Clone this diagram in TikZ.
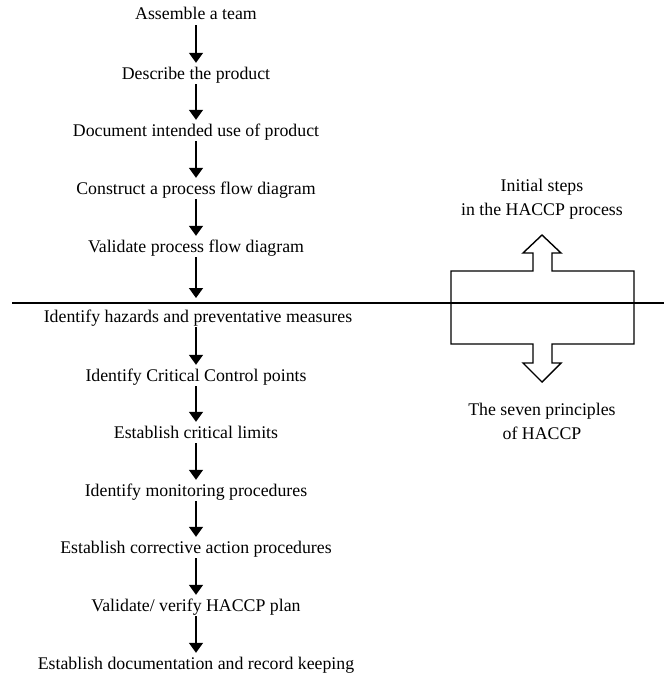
\documentclass[tikz,border=0pt]{standalone}
\usepackage{fontspec}
\setmainfont{Liberation Serif}
\usetikzlibrary{arrows.meta}
\begin{document}
\begin{tikzpicture}[x=1pt,y=-1pt,
  stepbox/.style={inner sep=1pt,text height=12pt,text depth=4pt,font=\fontsize{17.8}{24}\selectfont},
  lbl/.style={inner sep=0pt,align=center,font=\fontsize{17.8}{24}\selectfont},
  flow/.style={line width=1.5pt,-{Triangle[width=14pt,length=10pt]},shorten >=3pt},
  outline/.style={line width=1.4pt}]
\useasboundingbox (0,0) rectangle (664,677);
\node[stepbox] (s1) at (196,16) {Assemble a team};
\node[stepbox] (s2) at (196,75) {Describe the product};
\node[stepbox] (s3) at (196,132) {Document intended use of product};
\node[stepbox] (s4) at (196,190) {Construct a process flow diagram};
\node[stepbox] (s5) at (196,248) {Validate process flow diagram};
\coordinate (lineL) at (12,303);
\coordinate (lineR) at (664,303);
\coordinate (s5end) at (196,301);
\node[stepbox] (p1) at (198,318) {Identify hazards and preventative measures};
\node[stepbox] (p2) at (196,377) {Identify Critical Control points};
\node[stepbox] (p3) at (196,434) {Establish critical limits};
\node[stepbox] (p4) at (196,492) {Identify monitoring procedures};
\node[stepbox] (p5) at (196,549) {Establish corrective action procedures};
\node[stepbox] (p6) at (196,607) {Validate/ verify HACCP plan};
\node[stepbox] (p7) at (196,665) {Establish documentation and record keeping};
\foreach \a/\b in {s1/s2,s2/s3,s3/s4,s4/s5,p1/p2,p2/p3,p3/p4,p4/p5,p5/p6,p6/p7}
  \draw[flow] (\a.south -| 196,0) -- (\b.north -| 196,0);
\draw[flow] (s5.south) -- (s5end);
\draw[line width=1.4pt] (lineL) -- (lineR);
\draw[outline] (451,271) -- (533,271) -- (533,253) -- (523,253) -- (542,235) -- (561,253) -- (552,253) -- (552,271)
  -- (634,271) -- (634,344) -- (552,344) -- (552,363) -- (561,363) -- (542,382) -- (523,363) -- (533,363) -- (533,344)
  -- (451,344) -- cycle;
\node[lbl] (up) at (542,199) {Initial steps\\in the HACCP process};
\node[lbl] (down) at (542,421) {The seven principles\\of HACCP};
\end{tikzpicture}
\end{document}
